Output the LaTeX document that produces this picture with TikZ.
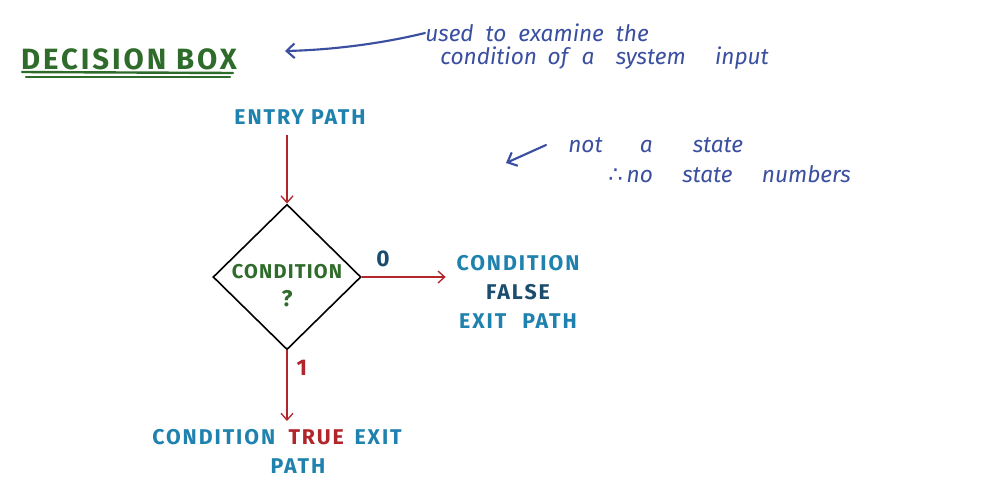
\documentclass[tikz,border=0pt]{standalone}
\usepackage{fontspec}
\setmainfont{Fira Sans}
\newfontfamily\symfont{DejaVu Sans}
\usetikzlibrary{shapes.geometric,arrows.meta}
\definecolor{dgreen}{HTML}{2F6B2A}
\definecolor{teallbl}{HTML}{1F82AE}
\definecolor{falseblue}{HTML}{1B4E6E}
\definecolor{myred}{HTML}{B0262A}
\definecolor{noteblue}{HTML}{3A4FA0}
\newcommand{\ls}[1]{\addfontfeature{LetterSpace=#1}}
\begin{document}
\begin{tikzpicture}[x=0.75pt,y=-0.75pt,
  lbl/.style={font=\fontsize{16}{19}\selectfont\bfseries\ls{9}, text=teallbl, inner sep=0pt},
  titlelbl/.style={font=\fontsize{22}{26}\selectfont\bfseries\ls{10}, text=dgreen, inner sep=0pt},
  glbl/.style={font=\fontsize{15}{18}\selectfont\bfseries\ls{6}, text=dgreen, inner sep=0pt},
  note/.style={font=\fontsize{17}{20}\selectfont\itshape, text=noteblue, anchor=west, inner sep=0pt},
  redarrow/.style={draw=myred, line width=1pt, -{Straight Barb[length=5pt,width=9pt]}},
  notearrow/.style={draw=noteblue, line width=1.6pt, line cap=round, -{Straight Barb[length=6pt,width=11pt]}},
  dia/.style={draw=black, line width=1.2pt, diamond, inner sep=0pt, minimum width=111pt, minimum height=109pt}
]
\useasboundingbox (0,0) rectangle (1002,490);
\fill[white] (0,0) rectangle (1002,490);

% title
\node[titlelbl] (title) at (129,59) {DECISION BOX};
\draw[dgreen, line width=1.8pt, line cap=round] (22,72) -- (233,73);
\draw[dgreen, line width=1.8pt, line cap=round] (26,77) -- (230,77);

% notes
\node[note] (n1) at (425,33) {used\hspace{9pt}to\hspace{9pt}examine\hspace{9pt}the};
\node[note] (n2) at (440,58) {condition\hspace{8pt}of\hspace{10pt}a\hspace{16pt}system\hspace{22pt}input};
\coordinate (tip1) at (285,51);
\draw[notearrow] (n1.west) .. controls (380,44) and (330,50) .. (tip1);

\node[note] (n3) at (568,145) {not\hspace{28pt}a\hspace{30pt}state};
\node[note] (n4) at (608,174) {{\symfont ∴}\hspace{3pt}no\hspace{22pt}state\hspace{22pt}numbers};
\coordinate (tip2) at (506,163);
\draw[notearrow] (n3.west) ++(-22,0) coordinate (s2) -- (tip2);

% flow
\node[lbl] (entry) at (300,117) {ENTRY PATH};
\node[dia] (dia) at (287,277) {};
\node[glbl] (cond) at (287,272) {CONDITION};
\node[glbl, font=\fontsize{17}{20}\selectfont\bfseries] (q) at (287,299) {?};

\node[lbl, align=center] (false) at (518,292) {CONDITION\\[3pt]{\color{falseblue}FALSE}\\[3pt]EXIT\hspace{12pt}PATH};
\node[font=\fontsize{17}{20}\selectfont\bfseries, text=falseblue] (zero) at (383,259) {0};
\node[font=\fontsize{17}{20}\selectfont\bfseries, text=myred] (one) at (302,368) {1};

\node[lbl] (true1) at (277,437) {CONDITION\hspace{10pt}{\color{myred}TRUE}\hspace{8pt}EXIT};
\node[lbl] (true2) at (298,466) {PATH};

\draw[redarrow] (dia.north |- entry.south) ++(0,10) -- (dia.north);
\draw[redarrow] (dia.east) -- ([xshift=-8pt]dia.east -| false.west);
\draw[redarrow] (dia.south) -- ([yshift=6pt]dia.south |- true1.north);
\end{tikzpicture}
\end{document}
